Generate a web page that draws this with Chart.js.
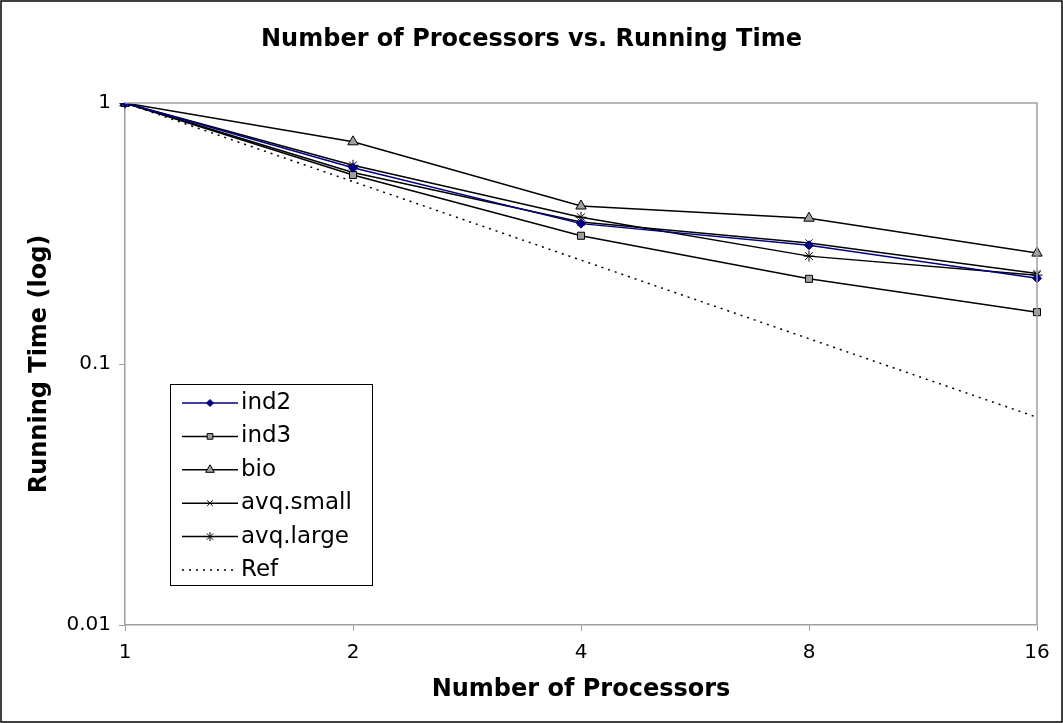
<!DOCTYPE html>
<html>
<head>
<meta charset="utf-8">
<script src="https://cdn.jsdelivr.net/npm/chart.js@4.4.1/dist/chart.umd.min.js"></script>
<style>
html,body{margin:0;padding:0;background:#fff;}
#wrap{width:1063px;height:723px;position:relative;}
</style>
</head>
<body>
<div id="wrap"><canvas id="c" width="1063" height="723"></canvas></div>
<script>
const categories = ['1', '2', '4', '8', '16'];
const yTickValues = [0.01, 0.1, 1];
const yTickLabels = ['0.01', '0.1', '1'];
const ind2 = [1, 0.565, 0.345, 0.285, 0.213];
const ind3 = [1, 0.53, 0.31, 0.212, 0.158];
const bio = [1, 0.71, 0.403, 0.362, 0.266];
const avqSmall = [1, 0.542, 0.35, 0.291, 0.222];
const avqLarge = [1, 0.577, 0.365, 0.259, 0.219];
const ref = [1, 0.5, 0.25, 0.125, 0.0625];

const FONT = "'DejaVu Sans', Verdana, sans-serif";
const TITLE_SIZE = 24;

const frame = {
  id: 'frame',
  beforeDraw(chart) {
    const ctx = chart.ctx;
    ctx.save();
    ctx.fillStyle = '#fff';
    ctx.fillRect(0, 0, chart.width, chart.height);
    ctx.restore();
  },
  afterDraw(chart) {
    const ctx = chart.ctx;
    const a = chart.chartArea;
    ctx.save();
    ctx.strokeStyle = '#a0a0a0';
    ctx.lineWidth = 1.5;
    ctx.beginPath();
    ctx.moveTo(a.left, a.top); ctx.lineTo(a.right, a.top); ctx.lineTo(a.right, a.bottom);
    ctx.stroke();
    ctx.strokeStyle = '#000';
    ctx.lineWidth = 1.5;
    ctx.strokeRect(1, 1, chart.width - 2, chart.height - 2);
    // legend
    const bx = 170, by = 384, bw = 202, bh = 201;
    ctx.fillStyle = '#fff';
    ctx.fillRect(bx, by, bw, bh);
    ctx.strokeStyle = '#000';
    ctx.lineWidth = 1;
    ctx.strokeRect(bx + 0.5, by + 0.5, bw, bh);
    const rowY0 = 403, step = 33.4;
    chart.data.datasets.forEach((ds, i) => {
      const y = rowY0 + i * step;
      ctx.save();
      ctx.strokeStyle = ds.borderColor;
      ctx.lineWidth = ds.borderWidth;
      ctx.setLineDash(ds.borderDash || []);
      ctx.beginPath();
      ctx.moveTo(182, y); ctx.lineTo(238, y);
      ctx.stroke();
      ctx.setLineDash([]);
      if (ds.pointStyle && ds.pointRadius > 0) {
        ctx.fillStyle = ds.pointBackgroundColor;
        ctx.strokeStyle = ds.pointBorderColor;
        ctx.lineWidth = 1;
        Chart.helpers.drawPoint(ctx, {pointStyle: ds.pointStyle, rotation: 0, radius: Math.max(3, ds.pointRadius - 1), borderWidth: 1}, 210, y);
      }
      ctx.restore();
      ctx.fillStyle = '#000';
      ctx.font = '23px ' + FONT;
      ctx.textBaseline = 'middle';
      ctx.textAlign = 'left';
      ctx.fillText(ds.label, 241, y);
    });
    ctx.restore();
  }
};

const mk = (label, data, color, style, r, fill, extra) => Object.assign({
  label, data,
  borderColor: color,
  borderWidth: 1.5,
  pointStyle: style,
  pointRadius: r,
  pointBackgroundColor: fill,
  pointBorderColor: color,
  pointBorderWidth: 1,
  tension: 0,
  fill: false
}, extra || {});

new Chart(document.getElementById('c'), {
  type: 'line',
  data: {
    labels: categories,
    datasets: [
      mk('ind2', ind2, '#000080', 'rectRot', 4.5, '#000080'),
      mk('ind3', ind3, '#000000', 'rect', 5, '#a0a0a0'),
      mk('bio', bio, '#000000', 'triangle', 6, '#a0a0a0'),
      mk('avq.small', avqSmall, '#000000', 'crossRot', 5, '#000000'),
      mk('avq.large', avqLarge, '#000000', 'star', 5.5, '#a0a0a0'),
      mk('Ref', ref, '#000000', false, 0, '#000000', {borderDash: [2, 5], borderWidth: 1.5})
    ]
  },
  options: {
    responsive: false,
    animation: false,
    layout: {padding: 0},
    plugins: {
      legend: {display: false},
      tooltip: {enabled: false},
      title: {
        display: true,
        text: 'Number of Processors vs. Running Time',
        color: '#000',
        font: {family: FONT, size: TITLE_SIZE, weight: 'bold'},
        padding: {top: 40 - TITLE_SIZE * 0.6, bottom: 103 - (40 + TITLE_SIZE * 0.6)}
      }
    },
    scales: {
      x: {
        type: 'category',
        offset: false,
        afterFit: s => { s.height = 98; },
        grid: {display: true, drawOnChartArea: false, drawTicks: true, tickLength: 6, color: '#a0a0a0'},
        border: {display: true, color: '#a0a0a0', width: 1.5},
        ticks: {color: '#000', font: {family: FONT, size: 20}, padding: 10, maxRotation: 0},
        title: {display: true, text: 'Number of Processors', color: '#000', font: {family: FONT, size: TITLE_SIZE, weight: 'bold'}, padding: {top: 0, bottom: 33 - TITLE_SIZE * 0.6}}
      },
      y: {
        type: 'logarithmic',
        min: 0.01,
        max: 1,
        afterFit: s => { s.width = 125; },
        afterBuildTicks: s => { s.ticks = yTickValues.map(v => ({value: v})); },
        grid: {display: true, drawOnChartArea: false, drawTicks: true, tickLength: 6, color: '#a0a0a0'},
        border: {display: true, color: '#a0a0a0', width: 1.5},
        ticks: {
          color: '#000', font: {family: FONT, size: 20}, padding: 8,
          callback: (v) => { const i = yTickValues.indexOf(v); return i >= 0 ? yTickLabels[i] : ''; }
        },
        title: {display: true, text: 'Running Time (log)', color: '#000', font: {family: FONT, size: TITLE_SIZE, weight: 'bold'}, padding: {top: 40 - TITLE_SIZE * 0.6, bottom: 0}}
      },
      yRight: {
        type: 'linear',
        position: 'right',
        display: true,
        afterFit: s => { s.width = 26; },
        grid: {display: false, drawTicks: false},
        border: {display: false},
        ticks: {display: false},
        title: {display: false}
      }
    }
  },
  plugins: [frame]
});
</script>
</body>
</html>
